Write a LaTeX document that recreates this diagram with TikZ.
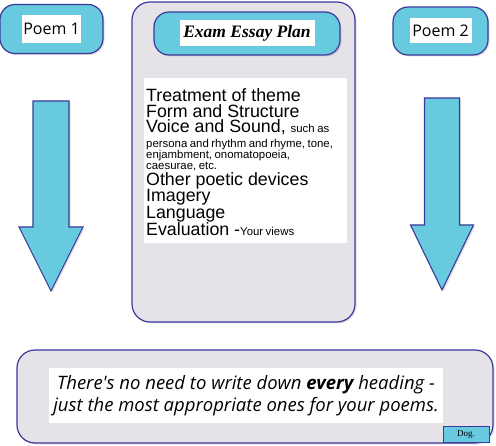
\documentclass[tikz,border=0pt]{standalone}
\usepackage{fontspec}
\setmainfont{Liberation Sans}
\newfontfamily\titlefont{Liberation Serif}
\newfontfamily\comicfont{Open Sans}
\usetikzlibrary{positioning,shadows}
\definecolor{cyanfill}{RGB}{104,202,222}
\definecolor{edge}{RGB}{58,58,158}
\definecolor{plangray}{RGB}{229,227,231}
\tikzset{
  roundbox/.style={draw=edge, line width=1.2pt, rounded corners=15pt, inner sep=0pt,
    drop shadow={opacity=0.25, shadow xshift=1.5pt, shadow yshift=-1.5pt}},
  whitelabel/.style={fill=white, inner sep=0pt},
  arrowshape/.style={draw=edge, line width=1.1pt, fill=cyanfill, line join=miter,
    drop shadow={opacity=0.25, shadow xshift=1.5pt, shadow yshift=-1.5pt}}
}
% centre x, shaft half width, head half width, top, neck, tip
\newcommand{\downarrowshape}[6]{
  \draw[arrowshape] (#1-#2,#4)--(#1+#2,#4)--(#1+#2,#5)--(#1+#3,#5)--(#1,#6)
    --(#1-#3,#5)--(#1-#2,#5)--cycle;
}
% one line of the plan: size, distance from the line above
\newcommand{\bigline}[1]{\fontsize{17.8}{#1}\selectfont\spaceskip=0pt}
\newcommand{\smallline}[1]{\fontsize{11.4}{#1}\selectfont\spaceskip=0.22em plus 0.1em}

\begin{document}
\begin{tikzpicture}[x=1pt,y=-1pt]
\useasboundingbox (0,0) rectangle (496,446);
% the plan in the middle
\node[roundbox, fill=plangray, rounded corners=18pt, minimum width=223pt, minimum height=320pt] (plan) at (243.5,162) {};
\node[roundbox, fill=cyanfill, minimum width=186pt, minimum height=43pt] (title) at (247,33.5) {};
\node[whitelabel, minimum width=135pt, minimum height=26pt, font=\titlefont\bfseries\itshape\fontsize{17.5}{17.5}\selectfont] (titletext) at (title) {Exam Essay Plan};
\node[whitelabel, minimum width=203pt, minimum height=165pt] (listbox) at (245.5,160.5) {};
\node[anchor=north west, inner sep=0pt, text width=203pt, align=left] (list) at (146,88.5) {%
  \lineskiplimit=-30pt\lineskip=0pt
  \bigline{16}Treatment of theme\par
  \bigline{16}Form and Structure\par
  \bigline{15}Voice and Sound, {\smallline{15}such as}\par
  \smallline{15}persona and rhythm and rhyme, tone,\par
  \smallline{11}enjambment, onomatopoeia,\par
  \smallline{10.5}caesurae, etc.\par
  \bigline{16}Other poetic devices\par
  \bigline{16}Imagery\par
  \bigline{17}Language\par
  \bigline{17}Evaluation -{\smallline{17}Your views}\par};
% the two poems
\node[roundbox, fill=cyanfill, minimum width=103pt, minimum height=49pt] (poemA) at (51.5,29) {};
\node[whitelabel, minimum width=59pt, minimum height=28pt, font=\comicfont\fontsize{16}{16}\selectfont] (poemAtext) at (poemA) {Poem 1};
\node[roundbox, fill=cyanfill, minimum width=95pt, minimum height=48pt] (poemB) at (440.5,31) {};
\node[whitelabel, minimum width=62pt, minimum height=25pt, font=\comicfont\fontsize{16}{16}\selectfont] (poemBtext) at (poemB) {Poem 2};
\downarrowshape{51}{18}{32}{101}{227}{291}
\downarrowshape{442}{17.5}{31.5}{98}{225}{290}
% advice at the bottom
\node[roundbox, fill=plangray, rounded corners=18pt, minimum width=476pt, minimum height=93pt] (advice) at (255,396.5) {};
\node[whitelabel, minimum width=394pt, minimum height=55pt, align=center, font=\comicfont\itshape\fontsize{18.5}{22}\selectfont] (advicetext) at (246,395.5)
  {There's no need to write down \textbf{every} heading -\\just the most appropriate ones for your poems.};
\node[draw=edge, line width=1pt, fill=cyanfill, minimum width=46pt, minimum height=16pt, inner sep=0pt, font=\titlefont\fontsize{9}{9}\selectfont] (dog) at (466,435) {Dog.};
\end{tikzpicture}
\end{document}
